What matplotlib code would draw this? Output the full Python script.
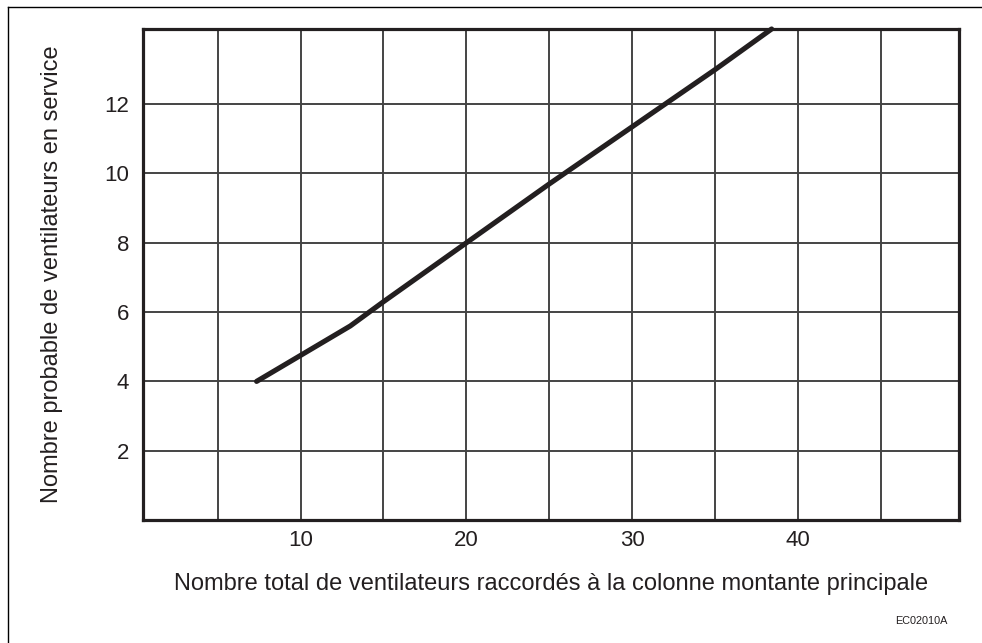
import matplotlib
matplotlib.use("Agg")
import matplotlib.pyplot as plt
from matplotlib.lines import Line2D

plt.rcParams['font.family'] = ['Liberation Sans', 'DejaVu Sans']

# Curve
x_vals = [7.35, 10, 13, 15, 20, 25, 30, 35, 38.4]
y_vals = [4.0, 4.75, 5.6, 6.3, 8.0, 9.7, 11.35, 13.0, 14.17]

x_ticks = [10, 20, 30, 40]
y_ticks = [2, 4, 6, 8, 10, 12]
x_grid = [5, 10, 15, 20, 25, 30, 35, 40, 45]
y_grid = [2, 4, 6, 8, 10, 12]

xlabel = "Nombre total de ventilateurs raccordés à la colonne montante principale"
ylabel = "Nombre probable de ventilateurs en service"
code = "EC02010A"

dark = '#231f20'
fig = plt.figure(figsize=(9.82, 6.43), dpi=100)
ax = fig.add_axes([0.1456, 0.1913, 0.8310, 0.7636])

ax.set_xlim(0.5, 49.7)
ax.set_ylim(0, 14.17)

for gx in x_grid:
    ax.axvline(gx, color='#444444', lw=1.4, zorder=1)
for gy in y_grid:
    ax.axhline(gy, color='#444444', lw=1.4, zorder=1)

ax.plot(x_vals, y_vals, color=dark, lw=3.7, solid_capstyle='round', zorder=3, clip_on=False)

ax.set_xticks(x_ticks)
ax.set_yticks(y_ticks)
ax.tick_params(length=0, labelsize=16, colors=dark)
ax.tick_params(axis='x', pad=7)
ax.tick_params(axis='y', pad=10)
for s in ax.spines.values():
    s.set_linewidth(2.3)
    s.set_color(dark)

ax.set_xlabel(xlabel, fontsize=17, color=dark, labelpad=16)
ax.set_ylabel(ylabel, fontsize=17, color=dark, labelpad=30)

fig.text(0.938, 0.034, code, fontsize=7.8, color=dark, ha='center', va='center')

# figure frame (left and top edges)
fig.add_artist(Line2D([8/982, 8/982], [0, 1 - 7/643], color='black', lw=1.0, transform=fig.transFigure))
fig.add_artist(Line2D([8/982, 1], [1 - 7/643, 1 - 7/643], color='black', lw=1.0, transform=fig.transFigure))

fig.savefig("out.png", dpi=100)
